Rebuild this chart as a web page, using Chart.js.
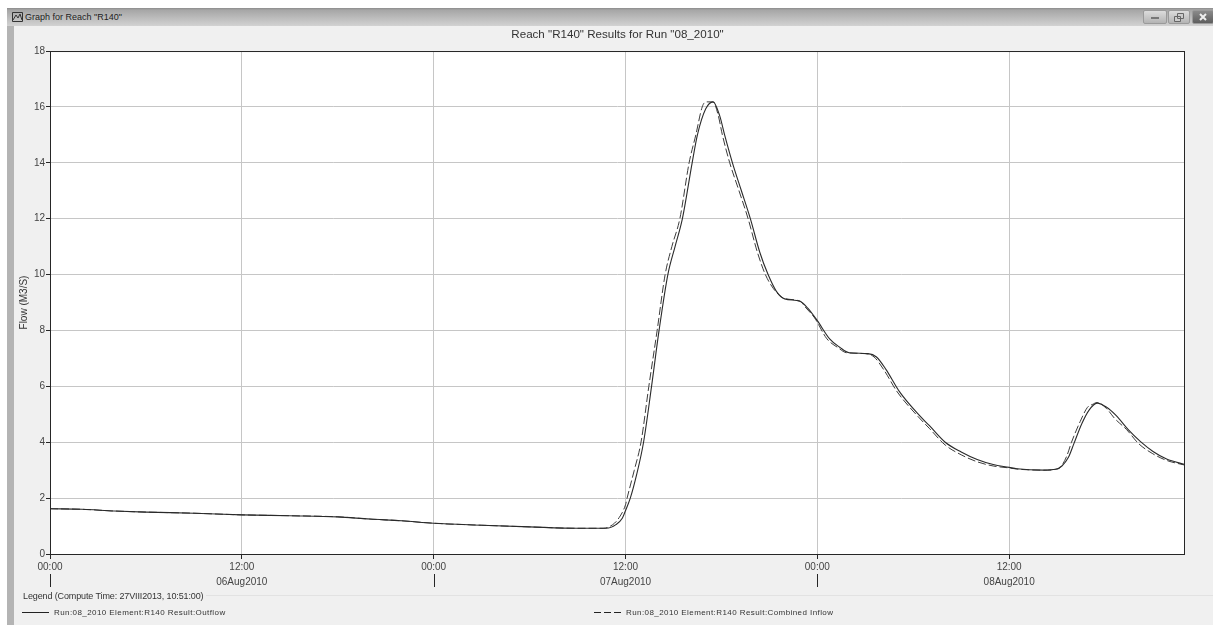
<!DOCTYPE html>
<html>
<head>
<meta charset="utf-8">
<script src="https://cdn.jsdelivr.net/npm/chart.js@4"></script>
<style>
html,body{margin:0;padding:0;width:1213px;height:625px;overflow:hidden;background:#fff;font-family:"Liberation Sans",Arial,sans-serif;color:#333}
#win{position:absolute;left:7px;top:8px;width:1206px;height:617px;background:#f0f0f0;border-left:7px solid #b4b4b4;box-sizing:border-box}
#bar{position:absolute;left:7px;top:8px;width:1206px;height:18px;background:linear-gradient(#8c8c8c 0,#a6a6a6 2px,#d2d2d2 100%);}
#bar span{position:absolute;left:18px;top:3px;font-size:9px;line-height:12px;color:#222}
#bar svg.ic{position:absolute;left:5px;top:4px}
.btn{position:absolute;top:2px;height:12px;border:1px solid #9a9a9a;border-radius:2px;background:linear-gradient(#dcdcdc,#b4b4b4)}
.btn svg{position:absolute;left:0;top:0}
canvas{position:absolute;left:0;top:0}
#chartWrap{position:absolute;left:0;top:0;width:1213px;height:625px}
#legendTitle{position:absolute;left:23px;top:590px;font-size:9px;line-height:12px;color:#333;letter-spacing:-.12px}
#legendRule{position:absolute;left:206px;top:595px;width:1007px;height:1px;background:#e2e2e2}
.li{position:absolute;top:607px;font-size:8px;line-height:12px;letter-spacing:.42px;white-space:nowrap;color:#333}
.li svg{position:absolute;left:-32px;top:5px}
</style>
</head>
<body>
<div id="win"></div>
<div id="bar">
  <svg class="ic" width="11" height="10"><path d="M0.5 9.5V0.5H10.5V9.5ZM1 8L4 3L6 6L8 2L10 8" fill="none" stroke="#333" stroke-width="1"/></svg>
  <span>Graph for Reach "R140"</span>
  <div class="btn" style="left:1136px;width:22px"><svg width="22" height="12"><rect x="7" y="6" width="8" height="2" fill="#777"/></svg></div>
  <div class="btn" style="left:1161px;width:20px"><svg width="20" height="12"><path d="M8.5 2.5h6v5h-6zM5.5 5.5h6v5h-6z" fill="#ccc" stroke="#666"/></svg></div>
  <div class="btn" style="left:1185px;width:20px;background:linear-gradient(#8a8a8a,#5e5e5e)"><svg width="20" height="12"><path d="M7 3L13 9M13 3L7 9" stroke="#eee" stroke-width="2"/></svg></div>
</div>
<div id="legendRule"></div>
<div id="chartWrap"><canvas id="c" width="1213" height="625"></canvas></div>
<div id="legendTitle">Legend (Compute Time: 27VIII2013, 10:51:00)</div>
<div id="legendBox"></div>
<script>
const chartTitle = 'Reach "R140" Results for Run "08_2010"';
const yAxisTitle = 'Flow (M3/S)';
const dayLabels = {12:'06Aug2010', 36:'07Aug2010', 60:'08Aug2010'};
const outflowLabel = 'Run:08_2010 Element:R140 Result:Outflow';
const inflowLabel = 'Run:08_2010 Element:R140 Result:Combined Inflow';

const outflowHours = [0,2,4,6,9,12,15,18,20,22,24,27,30,33,34.8,35.4,35.8,36,36.3,36.7,37.13,37.63,38.1,38.65,39.1,39.56,40.17,40.5,41.02,41.48,41.9,42.2,42.69,43.25,43.81,44.4,44.92,45.44,45.96,46.9,47.4,48,48.77,49.4,50,51.17,51.7,52.3,53.15,54.4,55,56,57,58,59,60,60.48,62.15,62.9,63.3,63.7,64.05,64.55,65,65.5,66.1,66.7,67.45,68.2,69,69.85,71];
const outflowValues = [1.62,1.6,1.54,1.5,1.46,1.4,1.37,1.33,1.25,1.19,1.1,1.03,0.97,0.92,0.92,1.05,1.28,1.55,2,2.85,4,6,8,10,11,12,14,15,15.93,16.18,15.67,15,14,13,12,10.8,10,9.4,9.13,9.05,8.8,8.35,7.7,7.4,7.2,7.17,7.05,6.6,5.8,4.95,4.6,4,3.65,3.38,3.2,3.1,3.05,3,3.03,3.15,3.45,3.95,4.67,5.15,5.4,5.25,4.95,4.45,4.03,3.67,3.4,3.2];

const inflowHours = [0,2,4,6,9,12,15,18,20,22,24,27,30,33,34.6,35.2,35.6,36,36.1,36.55,36.97,37.46,37.98,38.48,38.9,39.4,39.98,40.4,40.8,41.02,41.48,41.8,42.06,42.52,43.1,43.67,44.25,44.75,45.25,45.65,45.96,46.9,47.3,47.83,48.6,49.25,49.85,51,51.55,52.15,53,54.25,55,56,57,58,59,60,60.48,62.15,62.9,63.2,63.6,63.9,64.45,64.9,65.2,65.5,66.1,66.6,67.35,68.1,68.95,69.85,71];
const inflowValues = [1.62,1.6,1.54,1.5,1.46,1.4,1.37,1.33,1.25,1.19,1.1,1.03,0.97,0.92,0.92,1.05,1.3,1.76,2,3,4,6,8,10,11,12,14,15,16,16.18,16.18,15.7,15,14,13,12,10.8,10,9.5,9.25,9.14,9.05,8.8,8.45,7.7,7.4,7.2,7.17,7.05,6.6,5.8,4.95,4.5,3.9,3.55,3.3,3.15,3.08,3.04,3,3.03,3.1,3.5,4,4.75,5.25,5.35,5.42,5.2,4.85,4.45,3.95,3.6,3.35,3.18];

const longTickHours = [0,24,48];

function zip(xs, ys){ return xs.map((x,i)=>({x:x,y:ys[i]})); }
const fontFam = '"Liberation Sans", Arial, sans-serif';

const framePlugin = {
  id:'frame',
  beforeDraw(ch){
    const a = ch.chartArea, g = ch.ctx;
    g.save(); g.fillStyle='#ffffff'; g.fillRect(a.left,a.top,a.right-a.left,a.bottom-a.top); g.restore();
  },
  afterDraw(ch){
    const a = ch.chartArea, g = ch.ctx, xs = ch.scales.x;
    g.save();
    g.strokeStyle='#262626'; g.lineWidth=1;
    g.strokeRect(a.left+0.5,a.top+0.5,a.right-a.left-1,a.bottom-a.top);
    longTickHours.forEach(h=>{
      const p = Math.round(xs.getPixelForValue(h))+0.5;
      g.beginPath(); g.moveTo(p,574); g.lineTo(p,587); g.stroke();
    });
    g.restore();
  }
};

const chart = new Chart(document.getElementById('c'),{
  type:'line',
  data:{datasets:[
    {label:outflowLabel,data:zip(outflowHours,outflowValues),borderColor:'#2a2a2a',borderWidth:1.1,pointRadius:0,cubicInterpolationMode:'monotone',fill:false},
    {label:inflowLabel,data:zip(inflowHours,inflowValues),borderColor:'#3c3c3c',borderWidth:1,borderDash:[8,3],pointRadius:0,cubicInterpolationMode:'monotone',fill:false}
  ]},
  options:{
    responsive:false,animation:false,
    layout:{padding:{left:0,right:28,top:0,bottom:0}},
    plugins:{
      legend:{display:false},
      tooltip:{enabled:false},
      title:{display:true,text:chartTitle,fullSize:false,color:'#333',font:{family:fontFam,size:11.6,weight:'normal',lineHeight:1.2},padding:{top:28,bottom:9.1}}
    },
    scales:{
      x:{type:'linear',min:0,max:71,
        afterFit(s){s.height=71;},
        border:{display:false},
        grid:{color:'#c6c6c6',lineWidth:1,drawTicks:true,tickLength:5,tickColor:'#262626'},
        ticks:{stepSize:12,includeBounds:false,autoSkip:false,maxRotation:0,minRotation:0,padding:1,color:'#444',
          font:{family:fontFam,size:10,lineHeight:1.5},
          callback(v){
            const t = (v%24===0)?'00:00':'12:00';
            return dayLabels[v]?[t,dayLabels[v]]:t;
          }}
      },
      y:{min:0,max:18,
        afterFit(s){s.width=50;},
        border:{display:false},
        title:{display:true,text:yAxisTitle,color:'#333',font:{family:fontFam,size:10},padding:{top:18,bottom:0}},
        grid:{color:'#c6c6c6',lineWidth:1,drawTicks:true,tickLength:4,tickColor:'#262626'},
        ticks:{stepSize:2,padding:1,color:'#444',font:{family:fontFam,size:10}}
      }
    }
  },
  plugins:[framePlugin]
});

/* HTML legend generated from the chart's own datasets */
const legendLefts = [54,626];
chart.data.datasets.forEach((d,i)=>{
  const el = document.createElement('div');
  el.className='li'; el.style.left=legendLefts[i]+'px';
  const dash = d.borderDash ? ' stroke-dasharray="7 3"' : '';
  el.innerHTML='<svg width="27" height="2"><line x1="0" y1="0.5" x2="27" y2="0.5" stroke="#222" stroke-width="1"'+dash+'/></svg>';
  el.appendChild(document.createTextNode(d.label));
  document.getElementById('legendBox').appendChild(el);
});
</script>
</body>
</html>
